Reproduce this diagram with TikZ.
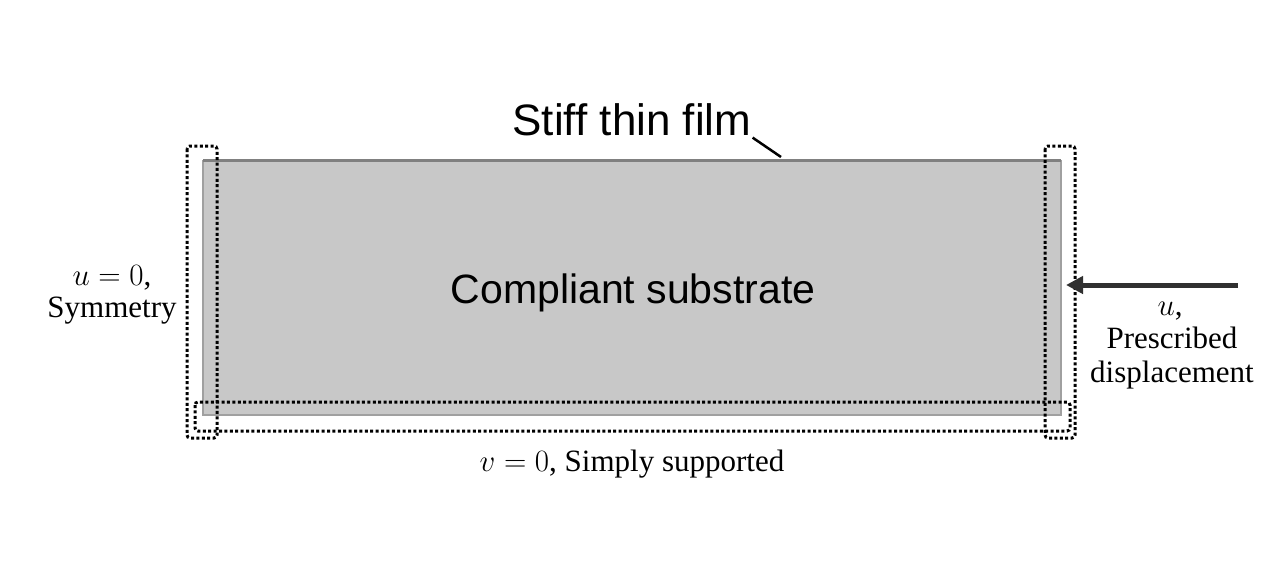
\RequirePackage{fix-cm}
\documentclass[tikz,border=0pt]{standalone}
\usepackage{fontspec}
\setmainfont{Liberation Serif}
\setsansfont{Liberation Sans}
\usetikzlibrary{arrows.meta}
\definecolor{subgray}{HTML}{C8C8C8}
\definecolor{edgegray}{HTML}{A0A0A0}
\definecolor{filmgray}{HTML}{808080}
\definecolor{arrowgray}{HTML}{303030}
\begin{document}
\begin{tikzpicture}[
		x=1pt, y=-1pt,
		bc/.style={draw=black, line width=3pt, dash pattern=on 3pt off 2.4pt, rounded corners=3pt},
		lbl/.style={font=\fontsize{31}{36}\selectfont, inner sep=0},
		big/.style={font=\sffamily\fontsize{41}{48}\selectfont, inner sep=0},
	]
	\useasboundingbox (0,0) rectangle (1280,578);
	\fill[subgray] (203,160) rectangle (1061,415);
	\draw[edgegray, line width=1.2pt] (203,160) -- (203,415) -- (1061,415) -- (1061,160);
	\draw[filmgray, line width=3pt] (203,160) -- (1061,160);
	\coordinate (filmpt) at (781,157);
	\node[big, anchor=base] (substrate) at (633,303) {Compliant substrate};
	\node[big, font=\sffamily\fontsize{44}{52}\selectfont, anchor=base] (film) at (632,135) {Stiff thin film};
	\draw[line width=2.5pt] ([xshift=1pt,yshift=-2pt]film.south east) -- (filmpt);
	\draw[bc] (187,146) rectangle (217,438);
	\draw[bc] (1045,146) rectangle (1075,438);
	\draw[bc] (195,402) rectangle (1070,431);
	\coordinate (load) at (1238,285);
	\coordinate (edge) at (1066,285);
	\draw[arrowgray, line width=5pt, -{Triangle[length=17pt,width=17pt]}] (load) -- (edge);
	\node[lbl, anchor=base] (sym) at (112,285) {$u=0$,};
	\node[lbl, anchor=base] (sym2) at (112,317) {Symmetry};
	\node[lbl, anchor=base] (pre) at (1170,315) {$u$,};
	\node[lbl, anchor=base] (pre2) at (1172,348) {Prescribed};
	\node[lbl, anchor=base] (pre3) at (1172,382) {displacement};
	\node[lbl, anchor=base] (supp) at (632,471) {$v=0$, Simply supported};
\end{tikzpicture}
\end{document}
